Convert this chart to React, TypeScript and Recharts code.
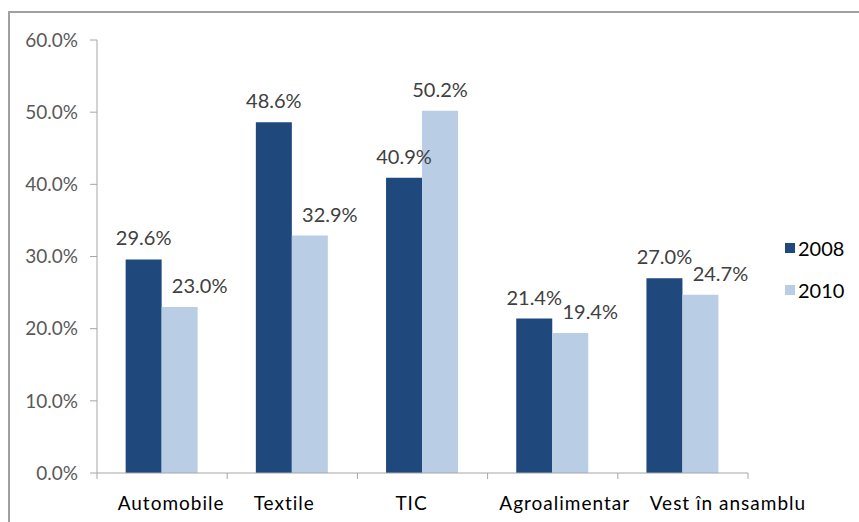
import React from "react";
import { Bar, BarChart, LabelList, XAxis, YAxis } from "recharts";

const categories = ["Automobile", "Textile", "TIC", "Agroalimentar", "Vest în ansamblu"];
const values2008 = [29.6, 48.6, 40.9, 21.4, 27.0];
const values2010 = [23.0, 32.9, 50.2, 19.4, 24.7];
const yTicks = [0, 10, 20, 30, 40, 50, 60];
const seriesNames = ["2008", "2010"];

const DARK = "#1F497D";
const LIGHT = "#B9CDE5";
const FONT = "Lato, 'Open Sans', sans-serif";

// horizontal nudges of the category labels, as laid out in the original
const CAT_DX = [9, -8, -11, 12, 45];

const data = categories.map((name, i) => ({
  name,
  y2008: values2008[i],
  y2010: values2010[i],
}));

const pct = (v: number) => `${Number(v).toFixed(1)}%`;

// category label at center, tick marks on the category boundaries (Excel style)
function CategoryTick(props: any) {
  const { x, y, payload, index, width } = props;
  const band = width / categories.length;
  const axisY = y - 20;
  const left = x - band / 2;
  return (
    <g>
      <line x1={left} y1={axisY} x2={left} y2={axisY + 6} stroke="#A6A6A6" />
      {index === categories.length - 1 && (
        <line x1={left + band} y1={axisY} x2={left + band} y2={axisY + 6} stroke="#A6A6A6" />
      )}
      <text
        x={x + CAT_DX[index]}
        y={y + 17}
        textAnchor="middle"
        fill="#000"
        fontSize={19}
        letterSpacing={1}
        fontFamily={FONT}
      >
        {payload.value}
      </text>
    </g>
  );
}

// 2010 labels that would collide with the 2008 label are pushed to the right
function Label2010(props: any) {
  const { x, y, width, value, index } = props;
  const clash = value < values2008[index] + 5;
  return (
    <text
      x={x + width / 2 + (clash ? 20 : 0)}
      y={y - 14}
      textAnchor="middle"
      fill="#404040"
      fontSize={20}
      fontFamily={FONT}
    >
      {pct(value)}
    </text>
  );
}

function Label2008(props: any) {
  const { x, y, width, value } = props;
  return (
    <text x={x + width / 2} y={y - 14} textAnchor="middle" fill="#404040" fontSize={20} fontFamily={FONT}>
      {pct(value)}
    </text>
  );
}

export default function App() {
  return (
    <div style={{ position: "absolute", left: 0, top: 0, width: 859, height: 522, background: "#fff", overflow: "hidden" }}>
      <div
        style={{
          position: "absolute",
          left: 8,
          top: 11,
          width: 900,
          height: 600,
          borderTop: "2px solid #A0A0A0",
          borderLeft: "2px solid #A0A0A0",
        }}
      />
      <BarChart
        width={859}
        height={522}
        data={data}
        margin={{ top: 40, right: 111, bottom: 19, left: 17 }}
        barCategoryGap="22%"
        barGap={0}
        style={{ position: "absolute", left: 0, top: 0 }}
      >
        <YAxis
          width={80}
          domain={[0, 60]}
          ticks={yTicks}
          tickFormatter={pct}
          axisLine={{ stroke: "#A6A6A6" }}
          tickLine={{ stroke: "#A6A6A6" }}
          tickSize={7}
          tickMargin={12}
          tick={{ fill: "#595959", fontSize: 19, fontFamily: FONT }}
          interval={0}
        />
        <XAxis
          dataKey="name"
          height={30}
          axisLine={{ stroke: "#A6A6A6" }}
          tickLine={false}
          tickSize={6}
          tickMargin={14}
          interval={0}
          tick={<CategoryTick />}
        />
        <Bar dataKey="y2008" name={seriesNames[0]} fill={DARK} isAnimationActive={false}>
          <LabelList dataKey="y2008" content={<Label2008 />} />
        </Bar>
        <Bar dataKey="y2010" name={seriesNames[1]} fill={LIGHT} isAnimationActive={false}>
          <LabelList dataKey="y2010" content={<Label2010 />} />
        </Bar>
      </BarChart>
      {seriesNames.map((s, i) => (
        <div
          key={s}
          style={{
            position: "absolute",
            left: 785,
            top: 236 + i * 42,
            display: "flex",
            alignItems: "center",
            fontFamily: FONT,
            fontSize: 20,
            color: "#000",
          }}
        >
          <span style={{ width: 10, height: 10, background: i === 0 ? DARK : LIGHT, marginRight: 3, display: "inline-block" }} />
          <span>{s}</span>
        </div>
      ))}
    </div>
  );
}
